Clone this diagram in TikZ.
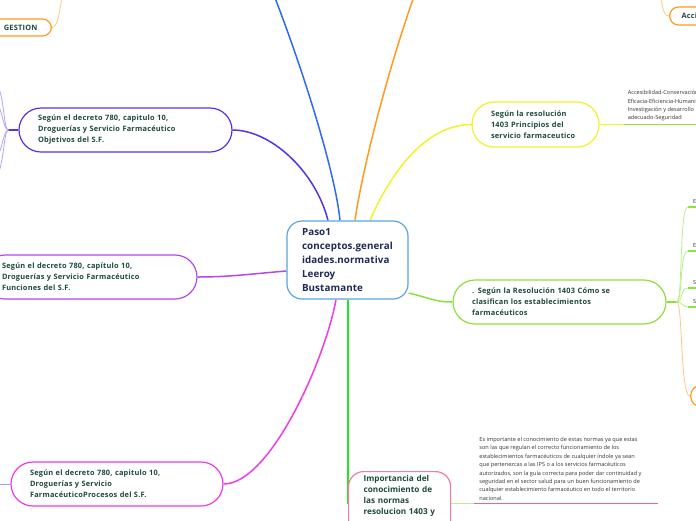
\documentclass[tikz,border=0pt]{standalone}
\usepackage{fontspec}
\setmainfont{Open Sans}
\usetikzlibrary{calc}
\pgfdeclarelayer{bg}
\pgfsetlayers{bg,main}
\definecolor{txtgreen}{HTML}{1D4A3A}
\definecolor{txtnavy}{HTML}{1C2A55}
\definecolor{txtgrey}{HTML}{333333}
\definecolor{cCentral}{HTML}{5AA5DC}
\definecolor{cObj}{HTML}{5A30E6}
\definecolor{cObjLight}{HTML}{B0A6F4}
\definecolor{cBlue}{HTML}{2B6CF0}
\definecolor{cBlueLight}{HTML}{8AA8F0}
\definecolor{cOrange}{HTML}{FF9A1F}
\definecolor{cOrangeLight}{HTML}{FFC880}
\definecolor{cYellow}{HTML}{F2F22A}
\definecolor{cFun}{HTML}{B347F0}
\definecolor{cProc}{HTML}{F03AE6}
\definecolor{cGreenV}{HTML}{22E622}
\definecolor{cClas}{HTML}{8DE03A}
\definecolor{cClasLight}{HTML}{B8F08A}
\definecolor{cUnder}{HTML}{8FE43A}
\definecolor{cPink}{HTML}{F07CA0}
\definecolor{cPinkLine}{HTML}{F0609A}
\newcommand{\mmNodeFont}{\fontsize{7.4}{11}\selectfont\bfseries\addfontfeature{LetterSpace=3}}
\newcommand{\mmCentralFont}{\fontsize{9.8}{14}\selectfont\bfseries\addfontfeature{LetterSpace=1}}
\newcommand{\mmImpFont}{\fontsize{8.2}{10.8}\selectfont\bfseries}
\newcommand{\mmSmallFont}{\fontsize{5.6}{8.45}\selectfont}
\begin{document}
\begin{tikzpicture}[x=1pt,y=-1pt,
  pill/.style={draw=#1, line width=1.2pt, fill=white, rounded corners=22pt,
    inner ysep=0pt, inner xsep=19pt, minimum height=44pt, align=left,
    font=\mmNodeFont, text=txtgreen},
  smallpill/.style={draw=#1, line width=1.2pt, fill=white, rounded corners=9pt,
    inner ysep=0pt, minimum height=17pt, align=left,
    font=\mmNodeFont, text=txtgreen},
  centralbox/.style={draw=cCentral, line width=1.2pt, fill=white, rounded corners=15pt,
    inner ysep=0pt, inner xsep=15pt, minimum height=78pt, text width=91pt,
    align=left, font=\mmCentralFont, text=txtnavy},
  notetext/.style={inner xsep=4pt, inner ysep=3pt, align=left, font=\mmSmallFont, text=txtgrey},
  mainconn/.style={draw=#1, line width=1.5pt},
  subconn/.style={draw=#1, line width=0.8pt},
  underline/.style={draw=#1, line width=1.5pt}
]
\useasboundingbox (0,0) rectangle (696,520);
\clip (0,0) rectangle (696,520);

% ---------- nodes ----------
\node[centralbox] (c) at (347.5,260) {Paso1\\conceptos.general\\idades.normativa\\Leeroy\\Bustamante};

\node[pill=cObj, text width=175pt] (obj) at (125.5,130)
  {\mbox{Según el decreto 780, capitulo 10,}\\\mbox{Droguerías y Servicio Farmacéutico}\\\mbox{Objetivos del S.F.}};

\node[pill=cFun, text width=176pt] (fun) at (90,277)
  {\mbox{Según el decreto 780, capítulo 10,}\\\mbox{Droguerías y Servicio Farmacéutico}\\\mbox{Funciones del S.F.}};

\node[pill=cProc, text width=174pt] (proc) at (117,484)
  {\mbox{Según el decreto 780, capitulo 10,}\\\mbox{Droguerías y Servicio}\\\mbox{FarmacéuticoProcesos del S.F.}};

\node[pill=cYellow, text width=89pt, minimum height=45pt] (princ) at (535.5,124.5)
  {\mbox{Según la resolución}\\\mbox{1403 Principios del}\\\mbox{servicio farmaceutico}};

\node[pill=cClas, text width=175pt] (clas) at (559.5,302)
  {\mbox{. Según la Resolución 1403 Cómo se}\\\mbox{clasifican los establecimientos}\\\mbox{farmacéuticos}};

\node[draw=cPink, line width=1.2pt, fill=white, rounded corners=15pt, anchor=north west,
  inner xsep=15pt, inner ysep=4pt, text width=72pt, text depth=50pt, align=left,
  font=\mmImpFont, text=txtgreen] (imp) at (348,471)
  {\mbox{Importancia del}\\\mbox{conocimiento de}\\\mbox{las normas}\\\mbox{resolucion 1403 y}};

\node[smallpill=cOrange, inner xsep=14pt, anchor=east] (gest) at (52,27.5) {GESTION};
\node[smallpill=cOrange, inner xsep=12pt, text width=60pt, minimum height=18pt, anchor=west] (acci) at (669,16) {Acci};
\node[smallpill=cOrange, minimum height=22pt, minimum width=40pt, rounded corners=11pt, anchor=west] (orr) at (690,396) {};

\node[notetext, anchor=south west] (princNote) at ([xshift=24pt]princ.east)
  {Accesibilidad-Conservación\\Eficacia-Eficiencia-Humanización\\Investigación y desarrollo\\adecuado-Seguridad};

\node[notetext, inner xsep=5pt, anchor=south west] (impNote) at ([xshift=23pt]imp.east)
  {Es importante el conocimiento de estas normas ya que estas\\
   son las que regulan el correcto funcionamiento de los\\
   establecimientos farmacéuticos de cualquier índole ya sean\\
   que pertenezcas a las IPS o a los servicios farmacéuticos\\
   autorizados, son la guía correcta para poder dar continuidad y\\
   seguridad en el sector salud para un buen funcionamiento de\\
   cualquier establecimiento farmacéutico en todo el territorio\\
   nacional.};

\node[notetext, inner xsep=5pt, anchor=south west] (e1) at (688,207) {E};
\node[notetext, inner xsep=5pt, anchor=south west] (e2) at (688,251) {E};
\node[notetext, inner xsep=5pt, anchor=south west] (s1) at (688,288) {S};
\node[notetext, inner xsep=5pt, anchor=south west] (s2) at (688,307) {S};

% free ends
\coordinate (blueEnd) at (268,-20);
\coordinate (orangeEnd) at (420,-20);
\coordinate (gestEnd) at (63,-10);
\coordinate (acciEnd) at (660,-10);
\coordinate (oj) at ([xshift=-10pt]obj.west);
\coordinate (l1) at (-6,80);
\coordinate (l2) at (-6,98);
\coordinate (l3) at (-6,162);
\coordinate (l4) at (-6,180);
\coordinate (pj) at (-6,484);
\coordinate (cj) at ([xshift=10pt]clas.east);
\coordinate (gv) at ([xshift=0.5pt]c.south);

% ---------- connectors ----------
\begin{pgfonlayer}{bg}
\draw[mainconn=cObj] ([xshift=-19.5pt]c.north) .. controls (315,170) and (270,130) .. (obj.east);
\draw[mainconn=cBlue] ([xshift=-7.5pt]c.north) .. controls (335,170) and (300,60) .. (blueEnd);
\draw[mainconn=cOrange] ([xshift=7.5pt]c.north) .. controls (362,170) and (390,60) .. (orangeEnd);
\draw[mainconn=cYellow] ([xshift=22.5pt]c.north) .. controls (385,185) and (420,124.5) .. (princ.west);
\draw[mainconn=cFun] ([yshift=-11pt]c.west) .. controls (250,274) and (230,277) .. (fun.east);
\draw[mainconn=cProc] ([xshift=-11.5pt]c.south) .. controls (325,360) and (270,484) .. (proc.east);
\draw[draw=cGreenV, line width=1.8pt] (gv) -- (gv |- imp.west);
\draw[mainconn=cClas] ([yshift=-33pt]c.east) .. controls (430,298) and (435,302) .. (clas.west);

\draw[subconn=cYellow] (princ.east) -- (princNote.south west);
\draw[underline=cUnder] (princNote.south west) -- ++(80,0);

\draw[subconn=cClasLight] (imp.east) -- (impNote.south west);
\draw[underline=cPinkLine] (impNote.south west) -- ++(184,0);

\draw[subconn=cOrangeLight] (gest.east) .. controls (58,27.5) and (60,10) .. (gestEnd);
\draw[subconn=cOrangeLight] (acciEnd) .. controls (662,5) and (663,16) .. (acci.west);

\draw[line width=1.2pt, draw=cObj] (obj.west) -- (oj);
\draw[subconn=cObjLight] (oj) .. controls (3,130) and (5,90) .. (l1);
\draw[subconn=cObjLight] (oj) .. controls (3,130) and (2,105) .. (l2);
\draw[subconn=cObjLight] (oj) .. controls (3,130) and (2,155) .. (l3);
\draw[subconn=cObjLight] (oj) .. controls (3,130) and (5,170) .. (l4);

\draw[subconn=cBlueLight] (proc.west) -- (pj);

\draw[line width=1.5pt, draw=cClas] (clas.east) -- (cj);
\draw[subconn=cClasLight] (cj) .. controls (683,302) and (679,207) .. (e1.south west);
\draw[subconn=cClasLight] (cj) .. controls (683,302) and (679,251) .. (e2.south west);
\draw[subconn=cClasLight] (cj) .. controls (683,302) and (680,288) .. (s1.south west);
\draw[subconn=cClasLight] (cj) .. controls (683,302) and (682,307) .. (s2.south west);
\draw[underline=cUnder] (e1.south west) -- ++(20,0);
\draw[underline=cUnder] (e2.south west) -- ++(20,0);
\draw[underline=cUnder] (s1.south west) -- ++(20,0);
\draw[underline=cUnder] (s2.south west) -- ++(20,0);
\draw[subconn=cOrangeLight] (cj) .. controls (683,302) and (680,396) .. (orr.west);
\end{pgfonlayer}
\end{tikzpicture}
\end{document}
